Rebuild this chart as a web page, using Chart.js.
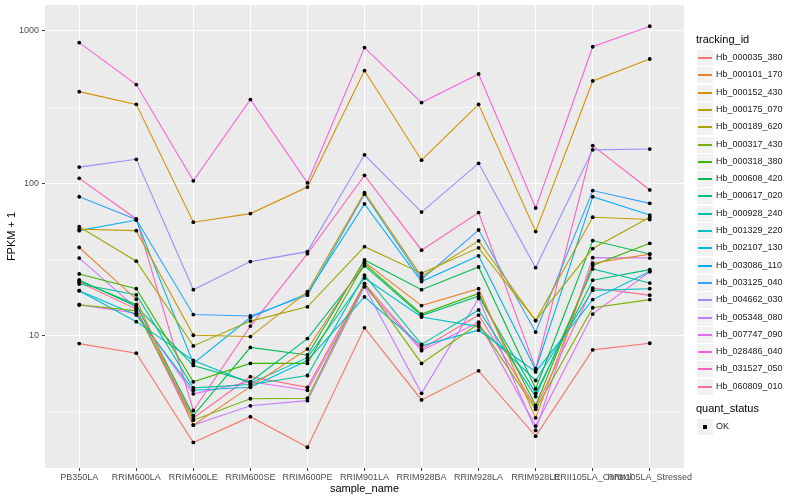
<!DOCTYPE html>
<html>
<head>
<meta charset="utf-8">
<script src="https://cdn.jsdelivr.net/npm/chart.js@4"></script>
<style>
  body { margin:0; background:#fff; font-family:"Liberation Sans", Arial, sans-serif; }
  #wrap { position:relative; width:800px; height:500px; }
  #legend { position:absolute; left:0; top:0; width:800px; height:500px; pointer-events:none; }
  .lg-title { position:absolute; left:696px; font-size:11px; line-height:13px; color:#000; }
  .lg-key { position:absolute; left:697px; width:16px; height:16px; background:#F2F2F2; }
  .lg-key i { position:absolute; left:1px; width:14px; top:7px; height:2px; }
  .lg-key b { position:absolute; left:6px; top:6px; width:4px; height:4px; background:#000; }
  .lg-label { position:absolute; left:716px; font-size:9px; line-height:11px; color:#1a1a1a; }
</style>
</head>
<body>
<div id="wrap">
  <canvas id="chart" width="800" height="500"></canvas>
  <div id="legend"></div>
</div>
<script>
const $ = (id) => document.getElementById(id);

const sampleNames = ['PB350LA','RRIM600LA','RRIM600LE','RRIM600SE','RRIM600PE','RRIM901LA','RRIM928BA','RRIM928LA','RRIM928LE','RRII105LA_Control','RRII105LA_Stressed'];
const trackingIds = ['Hb_000035_380','Hb_000101_170','Hb_000152_430','Hb_000175_070','Hb_000189_620','Hb_000317_430','Hb_000318_380','Hb_000608_420','Hb_000617_020','Hb_000928_240','Hb_001329_220','Hb_002107_130','Hb_003086_110','Hb_003125_040','Hb_004662_030','Hb_005348_080','Hb_007747_090','Hb_028486_040','Hb_031527_050','Hb_060809_010'];

// FPKM + 1, one value per sample
const hb_000035_380 = [8.9, 7.7, 2.0, 2.95, 1.86, 11.3, 3.8, 5.9, 2.2, 8.1, 8.95];
const hb_000101_170 = [38, 17.4, 2.6, 4.65, 8.2, 30.5, 15.8, 20.4, 2.9, 30, 34.4];
const hb_000152_430 = [400, 330, 55.7, 63.4, 94.6, 550, 142, 330, 48.3, 470, 655];
const hb_000175_070 = [50, 49, 10.1, 9.9, 19.5, 87, 24.5, 42, 12.6, 60, 58];
const hb_000189_620 = [52, 30.9, 8.6, 12.5, 15.5, 38.5, 25.8, 37.8, 12.6, 37.4, 60];
const hb_000317_430 = [16, 14.6, 2.8, 3.87, 3.9, 22, 6.6, 12, 3.3, 15.3, 17.3];
const hb_000318_380 = [25.5, 20.4, 5.0, 6.6, 6.6, 29.8, 13.9, 19, 3.5, 29, 40.5];
const hb_000608_420 = [22.9, 16, 3.0, 8.4, 7.5, 31.5, 20.1, 28.3, 4.5, 42.2, 34.4];
const hb_000617_020 = [23.3, 15.6, 6.4, 5.0, 9.6, 28.8, 13.6, 18.2, 4.2, 23.2, 27.2];
const hb_000928_240 = [21.9, 18.6, 4.56, 4.8, 5.5, 25, 8.8, 14.8, 4.0, 27.5, 22.2];
const hb_001329_220 = [19.8, 12.4, 6.9, 4.9, 7.2, 24, 13.3, 11.5, 5.1, 19.9, 20.4];
const hb_002107_130 = [19.8, 13.7, 4.4, 4.6, 6.9, 18, 8.6, 10.9, 5.8, 17.3, 26.4];
const hb_003086_110 = [49, 57.5, 6.6, 13.2, 19, 73.4, 22.7, 33.5, 6.0, 81.9, 62];
const hb_003125_040 = [81.8, 58, 13.8, 13.5, 18.5, 85, 23.5, 49.5, 10.6, 89.8, 74];
const hb_004662_030 = [128, 144, 20.1, 30.7, 35.7, 154, 64.9, 135.5, 28, 166, 168];
const hb_005348_080 = [32.4, 15.2, 2.6, 3.48, 3.76, 21, 4.2, 17.6, 2.4, 32.6, 32.4];
const hb_007747_090 = [16, 14.1, 4.17, 5.0, 4.4, 21.1, 8.0, 12.3, 2.56, 13.9, 26.4];
const hb_028486_040 = [838, 445, 104, 355, 100.9, 778, 339, 522, 69, 788, 1074];
const hb_031527_050 = [108, 58.5, 3.24, 11.6, 34.6, 113, 36.5, 64.4, 6.1, 177, 90.6];
const hb_060809_010 = [22.5, 15, 2.9, 5.4, 4.6, 22, 8.2, 13.7, 3.4, 20.6, 18.5];

const seriesValues = [hb_000035_380,hb_000101_170,hb_000152_430,hb_000175_070,hb_000189_620,hb_000317_430,hb_000318_380,hb_000608_420,hb_000617_020,hb_000928_240,hb_001329_220,hb_002107_130,hb_003086_110,hb_003125_040,hb_004662_030,hb_005348_080,hb_007747_090,hb_028486_040,hb_031527_050,hb_060809_010];
const yGridValues = [3.1623, 10, 31.623, 100, 316.23, 1000];
const yLabelValues = [10, 100, 1000];
const statusLevels = ['OK'];

const lineColors = ['#F8766D','#EA8331','#D89000','#C09B00','#A3A500','#7CAE00','#39B600','#00BB4E','#00BF7D','#00C1A3','#00BFC4','#00BAE0','#00B0F6','#35A2FF','#9590FF','#C77CFF','#E76BF3','#FA62DB','#FF62BC','#FF6C91'];
const FONT = '"Liberation Sans", Arial, sans-serif';
Chart.defaults.font.family = FONT;

const panelBg = {
  id:'panelBg',
  beforeDraw(chart){
    const { ctx, chartArea:a } = chart;
    ctx.save(); ctx.fillStyle = '#EBEBEB'; ctx.fillRect(a.left, a.top, a.right-a.left, a.bottom-a.top); ctx.restore();
  }
};

function buildDatasets(){
  const lines = trackingIds.map((id,k)=>({
    type:'line', label:id, order:1,
    data: seriesValues[k].map((v,i)=>({x:i, y:v})),
    borderColor: lineColors[k], borderWidth:1.1, pointRadius:0, fill:false, tension:0
  }));
  const pts = [];
  seriesValues.forEach(s=>s.forEach((v,i)=>pts.push({x:i, y:v})));
  lines.push({ type:'scatter', label:statusLevels[0], order:0, data:pts, pointRadius:1.9, pointBackgroundColor:'#000', pointBorderWidth:0, showLine:false });
  return lines;
}

function initChart(){
  new Chart($('chart'), {
    type:'line',
    data:{ datasets: buildDatasets() },
    plugins:[panelBg],
    options:{
      responsive:false, animation:false, devicePixelRatio:1,
      layout:{ padding:{ top:5, right:116, left:0, bottom:0 } },
      plugins:{ legend:{ display:false }, tooltip:{ enabled:false } },
      scales:{
        x:{
          type:'linear', min:-0.6, max:10.6, bounds:'data',
          afterBuildTicks: s => { s.ticks = sampleNames.map((_,i)=>({ value:i })); },
          afterFit: s => { s.height = 32; s.paddingLeft = 0; s.paddingRight = 0; },
          ticks:{ callback:(v)=>sampleNames[v], autoSkip:false, maxRotation:0, minRotation:0, font:{ size:9 }, color:'#4D4D4D', padding:1 },
          grid:{ color:'#FFFFFF', lineWidth:1.1, tickLength:3, tickColor:'#333333', tickWidth:1 },
          border:{ display:false },
          title:{ display:true, text:'sample_name', color:'#000', font:{ size:11 }, padding:{ top:0, bottom:4 } }
        },
        y:{
          type:'logarithmic', min:1.36, max:1480, bounds:'data',
          afterBuildTicks: s => { s.ticks = yGridValues.map(v=>({ value:v })); },
          afterFit: s => { s.width = 45; s.paddingTop = 0; s.paddingBottom = 0; },
          ticks:{ callback:(v)=> yLabelValues.includes(v) ? String(v) : '', autoSkip:false, font:{ size:9 }, color:'#4D4D4D', padding:3 },
          grid:{
            color:'#FFFFFF',
            lineWidth: c => (c.tick && yLabelValues.includes(c.tick.value)) ? 1.1 : 0.55,
            tickLength:3,
            tickColor: c => (c.tick && yLabelValues.includes(c.tick.value)) ? '#333333' : 'rgba(0,0,0,0)',
            tickWidth:1
          },
          border:{ display:false },
          title:{ display:true, text:'FPKM + 1', color:'#000', font:{ size:11 }, padding:{ top:5, bottom:0 } }
        }
      }
    }
  });
}

function buildLegend(){
  const box = $('legend');
  let html = `<div class="lg-title" style="top:33px">tracking_id</div>`;
  trackingIds.forEach((id,k)=>{
    const top = Math.round(50 + k*17.3);
    html += `<div class="lg-key" style="top:${top}px"><i style="background:${lineColors[k]}"></i></div>`;
    html += `<div class="lg-label" style="top:${top+2}px">${id}</div>`;
  });
  html += `<div class="lg-title" style="top:402px">quant_status</div>`;
  html += `<div class="lg-key" style="top:419px"><b></b></div>`;
  html += `<div class="lg-label" style="top:421px">${statusLevels[0]}</div>`;
  box.innerHTML = html;
}

window.addEventListener('DOMContentLoaded',()=>{ initChart(); buildLegend(); });
</script>
</body>
</html>
